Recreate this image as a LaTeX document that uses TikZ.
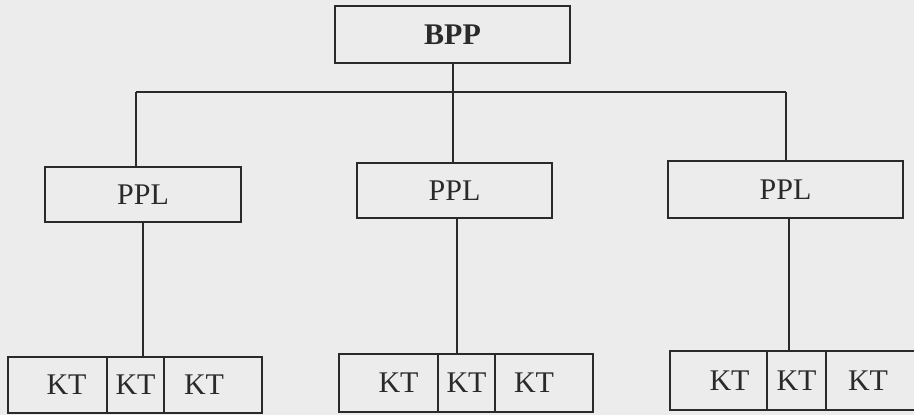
\documentclass[tikz,border=0pt]{standalone}
\usepackage{fontspec}
\setmainfont{Liberation Serif}
\definecolor{paper}{HTML}{ECECEC}
\definecolor{ink}{HTML}{2A2A2A}
\begin{document}
\begin{tikzpicture}[x=1pt,y=-1pt,
  box/.style={draw=ink,line width=1.6pt,inner sep=0pt,text=ink,
    font=\fontsize{30}{31}\selectfont},
  link/.style={draw=ink,line width=1.6pt}]
\fill[paper] (0,0) rectangle (914,415);
\useasboundingbox (0,0) rectangle (914,415);
\clip (0,0) rectangle (914,415);
% top
\node[box,minimum width=235pt,minimum height=57pt] (bpp) at (452.5,34.5) {\textbf{BPP}};
% PPL
\node[box,minimum width=196pt,minimum height=55pt] (p1) at (143,194.5) {PPL};
\node[box,minimum width=195pt,minimum height=55pt] (p2) at (454.5,190.5) {PPL};
\node[box,minimum width=235pt,minimum height=57pt] (p3) at (785.5,189.5) {PPL};
% KT left
\node[box,minimum width=99pt,minimum height=56pt] (k1a) at (57.5,385) {\kern18pt KT};
\node[box,minimum width=57pt,minimum height=56pt] (k1b) at (135.5,385) {KT};
\node[box,minimum width=98pt,minimum height=56pt] (k1c) at (213,385) {KT\kern18pt};
% KT middle
\node[box,minimum width=99pt,minimum height=58pt] (k2a) at (388.5,383) {\kern20pt KT};
\node[box,minimum width=57pt,minimum height=58pt] (k2b) at (466.5,383) {KT};
\node[box,minimum width=98pt,minimum height=58pt] (k2c) at (544,383) {KT\kern20pt};
% KT right
\node[box,minimum width=97pt,minimum height=59pt] (k3a) at (718.5,380.5) {\kern22pt KT};
\node[box,minimum width=59pt,minimum height=59pt] (k3b) at (796.5,380.5) {KT};
\node[box,minimum width=90pt,minimum height=59pt] (k3c) at (871,380.5) {KT\kern6pt};
% connectors
\coordinate (hl) at (136,92);
\coordinate (hr) at (786,92);
\coordinate (m1) at (453,0);
\draw[link] (hl) -- (hr);
\draw[link] (m1 |- bpp.south) -- (m1 |- p2.north);
\draw[link] (hl) -- (hl |- p1.north);
\draw[link] (hr) -- (hr |- p3.north);
\draw[link] (p1.south) -- (p1.south |- k1b.north);
\coordinate (m2) at (457,0);
\draw[link] (m2 |- p2.south) -- (m2 |- k2b.north);
\coordinate (m3) at (789,0);
\draw[link] (m3 |- p3.south) -- (m3 |- k3b.north);
\end{tikzpicture}
\end{document}
